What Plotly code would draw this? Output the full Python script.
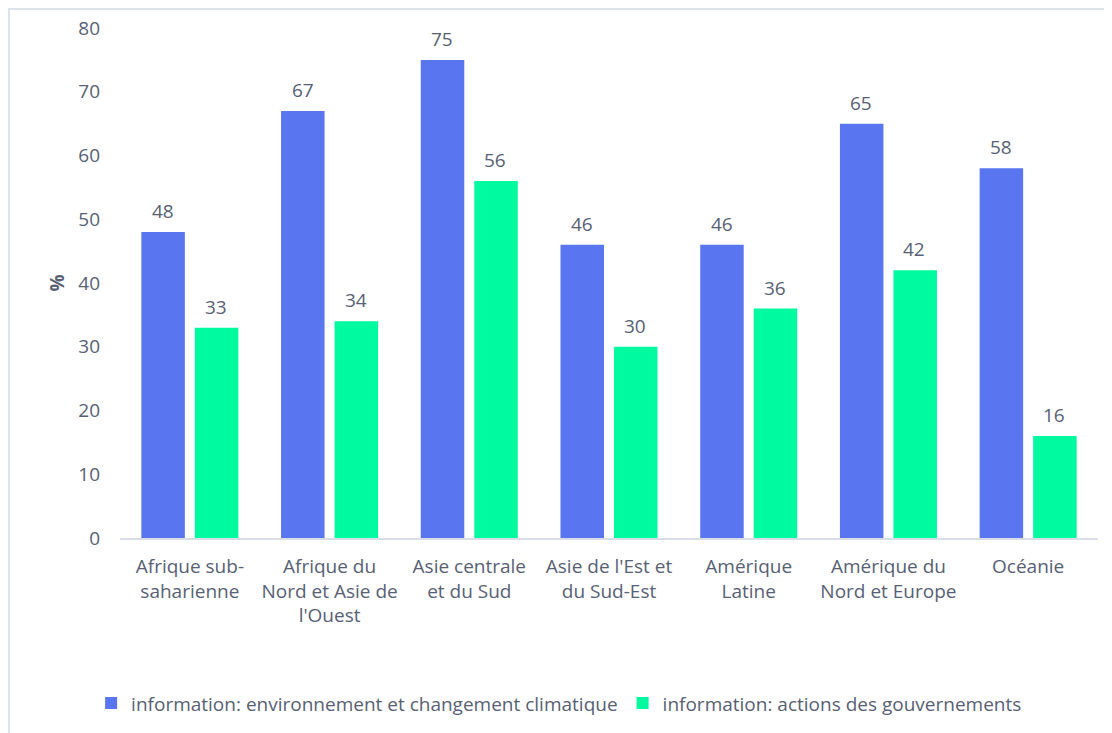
import plotly.graph_objects as go

categories = ["Afrique sub-<br>saharienne", "Afrique du<br>Nord et Asie de<br>l'Ouest",
              "Asie centrale<br>et du Sud", "Asie de l'Est et<br>du Sud-Est",
              "Amérique<br>Latine", "Amérique du<br>Nord et Europe", "Océanie"]
env_values = [48, 67, 75, 46, 46, 65, 58]
gov_values = [33, 34, 56, 30, 36, 42, 16]
series_names = ["information: environnement et changement climatique",
                "information: actions des gouvernements"]
y_ticks = [0, 10, 20, 30, 40, 50, 60, 70, 80]

BLUE = "#5A75F0"
GREEN = "#00FAA0"
TXT = "#586174"
FONT = "Open Sans"
FS = 19

# page is rendered with an 8px body margin
W, H = 1104, 725
ML, MR, MT, MB = 112, 14, 20, 195
pw = W - ML - MR
ph = H - MT - MB

fig = go.Figure()
fig.add_trace(go.Bar(x=categories, y=env_values, name=series_names[0],
                     marker=dict(color=BLUE, line=dict(width=0))))
fig.add_trace(go.Bar(x=categories, y=gov_values, name=series_names[1],
                     marker=dict(color=GREEN, line=dict(width=0))))

annotations = []
for c, v in zip(categories, env_values):
    annotations.append(dict(x=c, y=v, xref="x", yref="y", text=str(v), showarrow=False,
                            xshift=-27, yshift=21, font=dict(size=FS, color=TXT, family=FONT)))
for c, v in zip(categories, gov_values):
    annotations.append(dict(x=c, y=v, xref="x", yref="y", text=str(v), showarrow=False,
                            xshift=26, yshift=21, font=dict(size=FS, color=TXT, family=FONT)))

fig.update_layout(
    width=W, height=H,
    margin=dict(l=ML, r=MR, t=MT, b=MB, autoexpand=False),
    paper_bgcolor="white", plot_bgcolor="white",
    barmode="group", bargap=0.234, bargroupgap=0.187,
    font=dict(family=FONT, size=FS, color=TXT),
    annotations=annotations,
    showlegend=True,
    legend=dict(orientation="h", x=0.449, xanchor="center", y=-0.324, yanchor="middle",
                font=dict(size=FS, color=TXT, family=FONT), itemsizing="constant",
                traceorder="normal"),
    xaxis=dict(showline=True, linecolor="#D9DEE6", linewidth=2, ticks="",
               ticklabelstandoff=10,
               tickfont=dict(size=FS, color=TXT, family=FONT), showgrid=False),
    yaxis=dict(range=[0, 80], tickvals=y_ticks, showgrid=False, zeroline=False,
               showline=False, ticks="", ticklabelstandoff=19,
               tickfont=dict(size=FS, color=TXT, family=FONT),
               title=dict(text="<b>%</b>", font=dict(size=FS, color=TXT, family=FONT),
                          standoff=8)),
    shapes=[dict(type="rect", xref="paper", yref="paper",
                 x0=(1 - ML) / pw, x1=(W + 20 - ML) / pw,
                 y0=-(H + 20 - MT - ph) / ph, y1=1 + (MT - 1) / ph,
                 line=dict(color="#DCE3EC", width=2), fillcolor="rgba(0,0,0,0)",
                 layer="below")],
)

fig.write_html("out.html")
